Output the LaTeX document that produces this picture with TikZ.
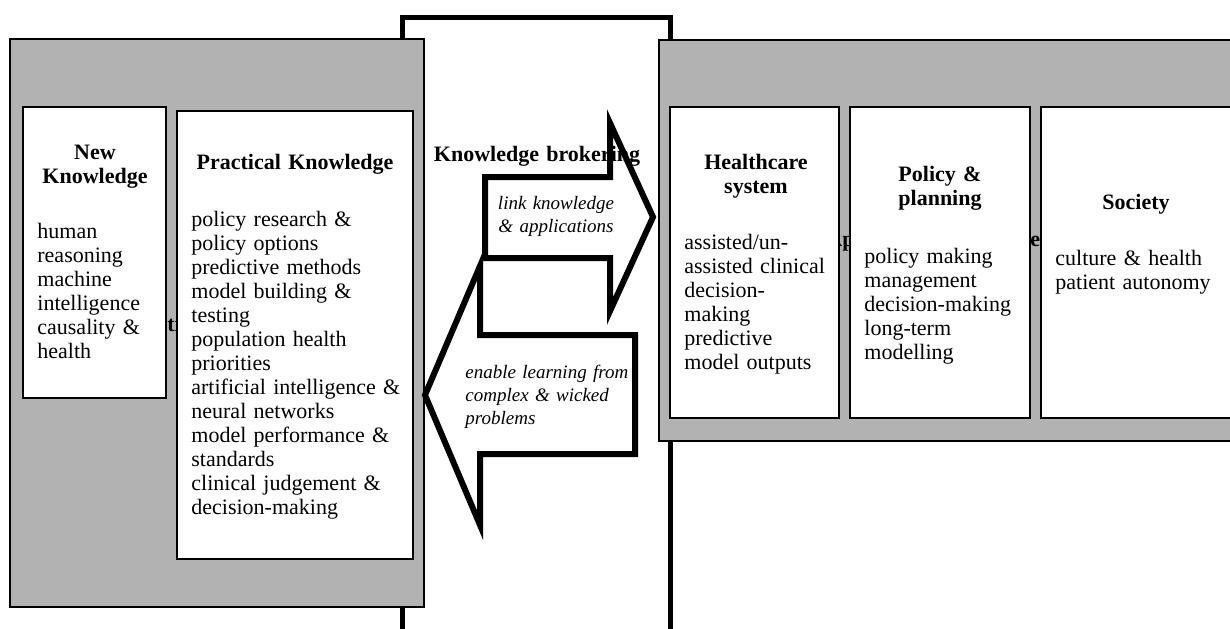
\documentclass[tikz,border=0pt]{standalone}
\usepackage{fontspec}
\setmainfont{Liberation Serif}
\usepackage{xcolor}
\usepackage{tikz}
\definecolor{panelgray}{RGB}{178,178,178}

\begin{document}
\begin{tikzpicture}[x=0.5pt, y=-0.5pt,
    panel/.style={draw=black, line width=1pt, fill=panelgray},
    card/.style={draw=black, line width=1pt, fill=white},
    cardtitle/.style={anchor=base, inner sep=0pt, align=center, font=\fontsize{11}{12}\selectfont\bfseries},
    cardbody/.style={anchor=base west, inner sep=0pt, align=left, font=\fontsize{11}{12}\selectfont},
    hiddentitle/.style={anchor=base west, inner sep=0pt, font=\fontsize{11}{12}\selectfont\bfseries},
    bigarrow/.style={draw=black, line width=3pt, line join=miter},
    arrowtext/.style={inner sep=0pt, font=\fontsize{9.5}{11.5}\selectfont\itshape}]
    \useasboundingbox (0,0) rectangle (1230,628);

    % brokering column behind the panels
    \draw[line width=2.5pt, fill=white] (402,17) rectangle (670,660);

    % the two grey panels
    \draw[panel] (10,39) rectangle (424,607);
    \draw[panel] (659,40) rectangle (1250,441);
    \node[hiddentitle] (knowhidden) at (167,331) {ti};
    \node[hiddentitle] (applyhidden) at (826,246) {Ap};
    \node[hiddentitle] (applyhiddenb) at (1030,246) {ec};

    % knowledge side
    \draw[card] (23,107) rectangle (166,398);
    \draw[card] (177,111) rectangle (413,559);
    \node[cardtitle, text width=65pt] (newtitle) at (95,159) {New\\Knowledge};
    \node[cardbody, text width=65pt] (newbody) at (37,238)
        {human\\reasoning\\machine\\intelligence\\causality \&\\health};
    \node[cardtitle, text width=110pt] (practitle) at (295,169) {Practical Knowledge};
    \node[cardbody, text width=110pt] (pracbody) at (191,226)
        {policy research \&\\policy options\\predictive methods\\model building \&\\testing\\population health\\priorities\\artificial intelligence \&\\neural networks\\model performance \&\\standards\\clinical judgement \&\\decision-making};

    % application side
    \draw[card] (670,107) rectangle (839,418);
    \draw[card] (850,107) rectangle (1030,418);
    \draw[card] (1041,107) rectangle (1250,418);
    \node[cardtitle, text width=75pt] (healthtitle) at (756,169) {Healthcare\\system};
    \node[cardbody, text width=75pt] (healthbody) at (684,249)
        {assisted/un-\\assisted clinical\\decision-\\making\\predictive\\model outputs};
    \node[cardtitle, text width=80pt] (policytitle) at (940,181) {Policy \&\\planning};
    \node[cardbody, text width=80pt] (policybody) at (864,263)
        {policy making\\management\\decision-making\\long-term\\modelling};
    \node[cardtitle, text width=80pt] (societytitle) at (1136,209) {Society};
    \node[cardbody, text width=85pt] (societybody) at (1055,265)
        {culture \& health\\patient autonomy};

    % brokering
    \node[cardtitle, text width=110pt] (brokertitle) at (537,161) {Knowledge brokering};
    \draw[bigarrow] (485,177) -- (610,177) -- (610,123) -- (653,217) -- (610,311)
        -- (610,258) -- (485,258) -- cycle;
    \draw[bigarrow] (635,335) -- (480,335) -- (480,266) -- (425,395) -- (480,525)
        -- (480,454) -- (635,454) -- cycle;
    \node[arrowtext, anchor=base, align=center, text width=70pt] (linktext) at (556,209)
        {link knowledge\\\& applications};
    \node[arrowtext, anchor=base west, align=left, text width=85pt] (learntext) at (465,378)
        {enable learning from\\complex \& wicked\\problems};
\end{tikzpicture}
\end{document}
